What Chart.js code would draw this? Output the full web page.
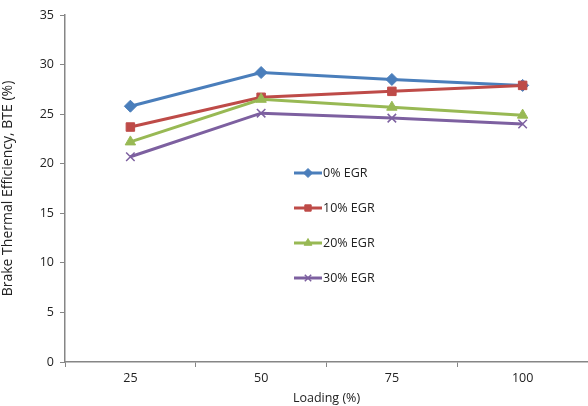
<!DOCTYPE html>
<html>
<head>
<meta charset="utf-8">
<script src="https://cdn.jsdelivr.net/npm/chart.js@4"></script>
<style>
  html, body { margin: 0; padding: 0; background: #fff; }
  #wrap { width: 588px; height: 406px; }
</style>
</head>
<body>
<div id="wrap"><canvas id="chart" width="588" height="406"></canvas></div>
<script>
"use strict";

// data
const loading = ["25", "50", "75", "100"];
const egr0 = [25.8, 29.2, 28.5, 27.9];
const egr10 = [23.7, 26.7, 27.3, 27.9];
const egr20 = [22.2, 26.5, 25.7, 24.9];
const egr30 = [20.7, 25.1, 24.6, 24.0];
const seriesNames = ["0% EGR", "10% EGR", "20% EGR", "30% EGR"];

const FONT = "'Open Sans', 'Noto Sans', sans-serif";
const AXIS = "#868686";

// legend drawn inside the plot, like the original
const insideLegend = {
    id: 'insideLegend',
    afterDraw(chart) {
        const ctx = chart.ctx;
        ctx.save();
        chart.data.datasets.forEach((ds, i) => {
            const y = 173 + i * 35;
            ctx.strokeStyle = ds.borderColor;
            ctx.fillStyle = ds.borderColor;
            ctx.lineWidth = 3;
            ctx.beginPath();
            ctx.moveTo(294, y);
            ctx.lineTo(322, y);
            ctx.stroke();
            ctx.lineWidth = ds.pointStyle === 'crossRot' ? 1.5 : 1;
            Chart.helpers.drawPoint(ctx, {
                pointStyle: ds.pointStyle,
                radius: ds.pointRadius - 1.5,
                rotation: 0,
                borderWidth: ds.pointStyle === 'crossRot' ? 1.5 : 1
            }, 308, y);
            ctx.fillStyle = "#222";
            ctx.font = "12.5px " + FONT;
            ctx.textBaseline = "middle";
            ctx.fillText(ds.label, 323, y);
        });
        ctx.restore();
    }
};

// later series are drawn on top, as in the original
function series(label, data, color, style, radius, order) {
    return {
        label: label,
        data: data,
        order: order,
        borderColor: color,
        backgroundColor: color,
        pointBackgroundColor: color,
        pointBorderColor: color,
        pointStyle: style,
        pointRadius: radius,
        pointBorderWidth: style === 'crossRot' ? 1.5 : 1,
        borderWidth: 3,
        tension: 0
    };
}

var ctx = document.getElementById("chart").getContext("2d");
var chart = new Chart(ctx, {
    type: 'line',
    data: {
        labels: loading,
        datasets: [
            series(seriesNames[0], egr0, "#4A7EBB", 'rectRot', 6, 3),
            series(seriesNames[1], egr10, "#BE4B48", 'rect', 6, 2),
            series(seriesNames[2], egr20, "#98B954", 'triangle', 6, 1),
            series(seriesNames[3], egr30, "#7D60A0", 'crossRot', 6, 0)
        ]
    },
    options: {
        responsive: false,
        animation: false,
        layout: { autoPadding: false, padding: { top: 15, right: 0, left: 0, bottom: 0 } },
        plugins: {
            legend: { display: false },
            tooltip: { enabled: false }
        },
        scales: {
            x: {
                offset: true,
                grid: {
                    offset: true,
                    drawOnChartArea: false,
                    drawTicks: true,
                    tickLength: 5,
                    color: AXIS
                },
                border: { color: AXIS, width: 1.5 },
                ticks: { color: "#222", font: { family: FONT, size: 12.5 }, padding: 4, maxRotation: 0 },
                title: {
                    display: true,
                    text: "Loading (%)",
                    color: "#222",
                    font: { family: FONT, size: 12.5 },
                    padding: { top: 1, bottom: 0 }
                },
                afterFit(scale) { scale.height = 44; }
            },
            y: {
                min: 0,
                max: 35,
                ticks: { stepSize: 5, color: "#222", font: { family: FONT, size: 12.5 }, padding: 6 },
                grid: {
                    drawOnChartArea: false,
                    drawTicks: true,
                    tickLength: 5,
                    color: AXIS
                },
                border: { color: AXIS, width: 1.5 },
                title: {
                    display: true,
                    text: "Brake Thermal Efficiency, BTE (%)",
                    color: "#222",
                    font: { family: FONT, size: 14 },
                    padding: { top: 0, bottom: 3 }
                },
                afterFit(scale) { scale.width = 65; }
            }
        }
    },
    plugins: [insideLegend]
});
</script>
</body>
</html>
